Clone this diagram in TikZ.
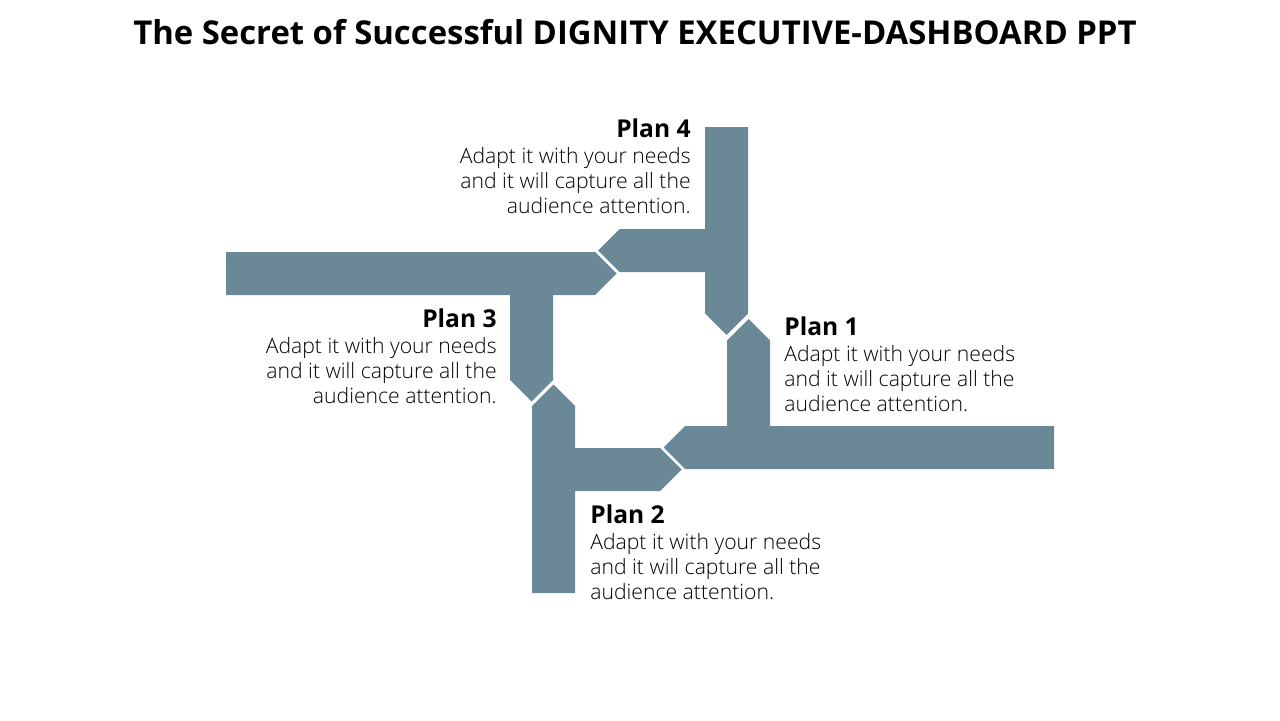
\documentclass[tikz,border=0pt]{standalone}
\usepackage{fontspec}
\setmainfont{Open Sans}
\newfontfamily\lightfont{Open Sans Light}
\usetikzlibrary{positioning}
\definecolor{slate}{RGB}{106,136,150}

\begin{document}
\begin{tikzpicture}[x=0.02cm, y=-0.02cm,
  arm/.style={fill=slate, draw=none},
  head/.style={font=\fontsize{14}{16}\selectfont\bfseries, inner sep=0pt},
  body/.style={font=\lightfont\fontsize{12.05}{14.2}\selectfont, inner sep=0pt},
  every node/.style={text=black}
]
  \useasboundingbox (0,0) rectangle (1280,720);

  % Title
  \node[font=\fontsize{18.7}{21}\selectfont\bfseries] (title) at (635,32)
    {The Secret of Successful DIGNITY EXECUTIVE-DASHBOARD PPT};

  % Plan 1 arm
  \fill[arm] (748.5,319) -- (770,340.5) -- (770,426) -- (1054,426) -- (1054,469)
    -- (685,469) -- (663.5,447.5) -- (685,426) -- (727,426) -- (727,340.5) -- cycle;
  % Plan 2 arm
  \fill[arm] (553.5,384.5) -- (575,406) -- (575,448) -- (660,448) -- (681.5,469.5)
    -- (660,491) -- (575,491) -- (575,593) -- (532,593) -- (532,406) -- cycle;
  % Plan 3 arm
  \fill[arm] (226,252) -- (595,252) -- (616.5,273.5) -- (595,295) -- (553,295)
    -- (553,380) -- (531.5,401.5) -- (510,380) -- (510,295) -- (226,295) -- cycle;
  % Plan 4 arm
  \fill[arm] (705,127) -- (748,127) -- (748,313.5) -- (726.5,335) -- (705,313.5)
    -- (705,272) -- (619.5,272) -- (598,250.5) -- (619.5,229) -- (705,229) -- cycle;

  % Plan 1
  \node[head, anchor=base west] (p1head) at (784,335) {Plan 1};
  \node[body, anchor=north west, align=left] (p1text) at (784,345)
    {Adapt it with your needs\\and it will capture all the\\audience attention.};

  % Plan 2
  \node[head, anchor=base west] (p2head) at (590,523) {Plan 2};
  \node[body, anchor=north west, align=left] (p2text) at (590,533)
    {Adapt it with your needs\\and it will capture all the\\audience attention.};

  % Plan 3
  \node[head, anchor=base east] (p3head) at (497,327) {Plan 3};
  \node[body, anchor=north east, align=right] (p3text) at (497,337)
    {Adapt it with your needs\\and it will capture all the\\audience attention.};

  % Plan 4
  \node[head, anchor=base east] (p4head) at (691,137) {Plan 4};
  \node[body, anchor=north east, align=right] (p4text) at (691,147)
    {Adapt it with your needs\\and it will capture all the\\audience attention.};
\end{tikzpicture}
\end{document}
